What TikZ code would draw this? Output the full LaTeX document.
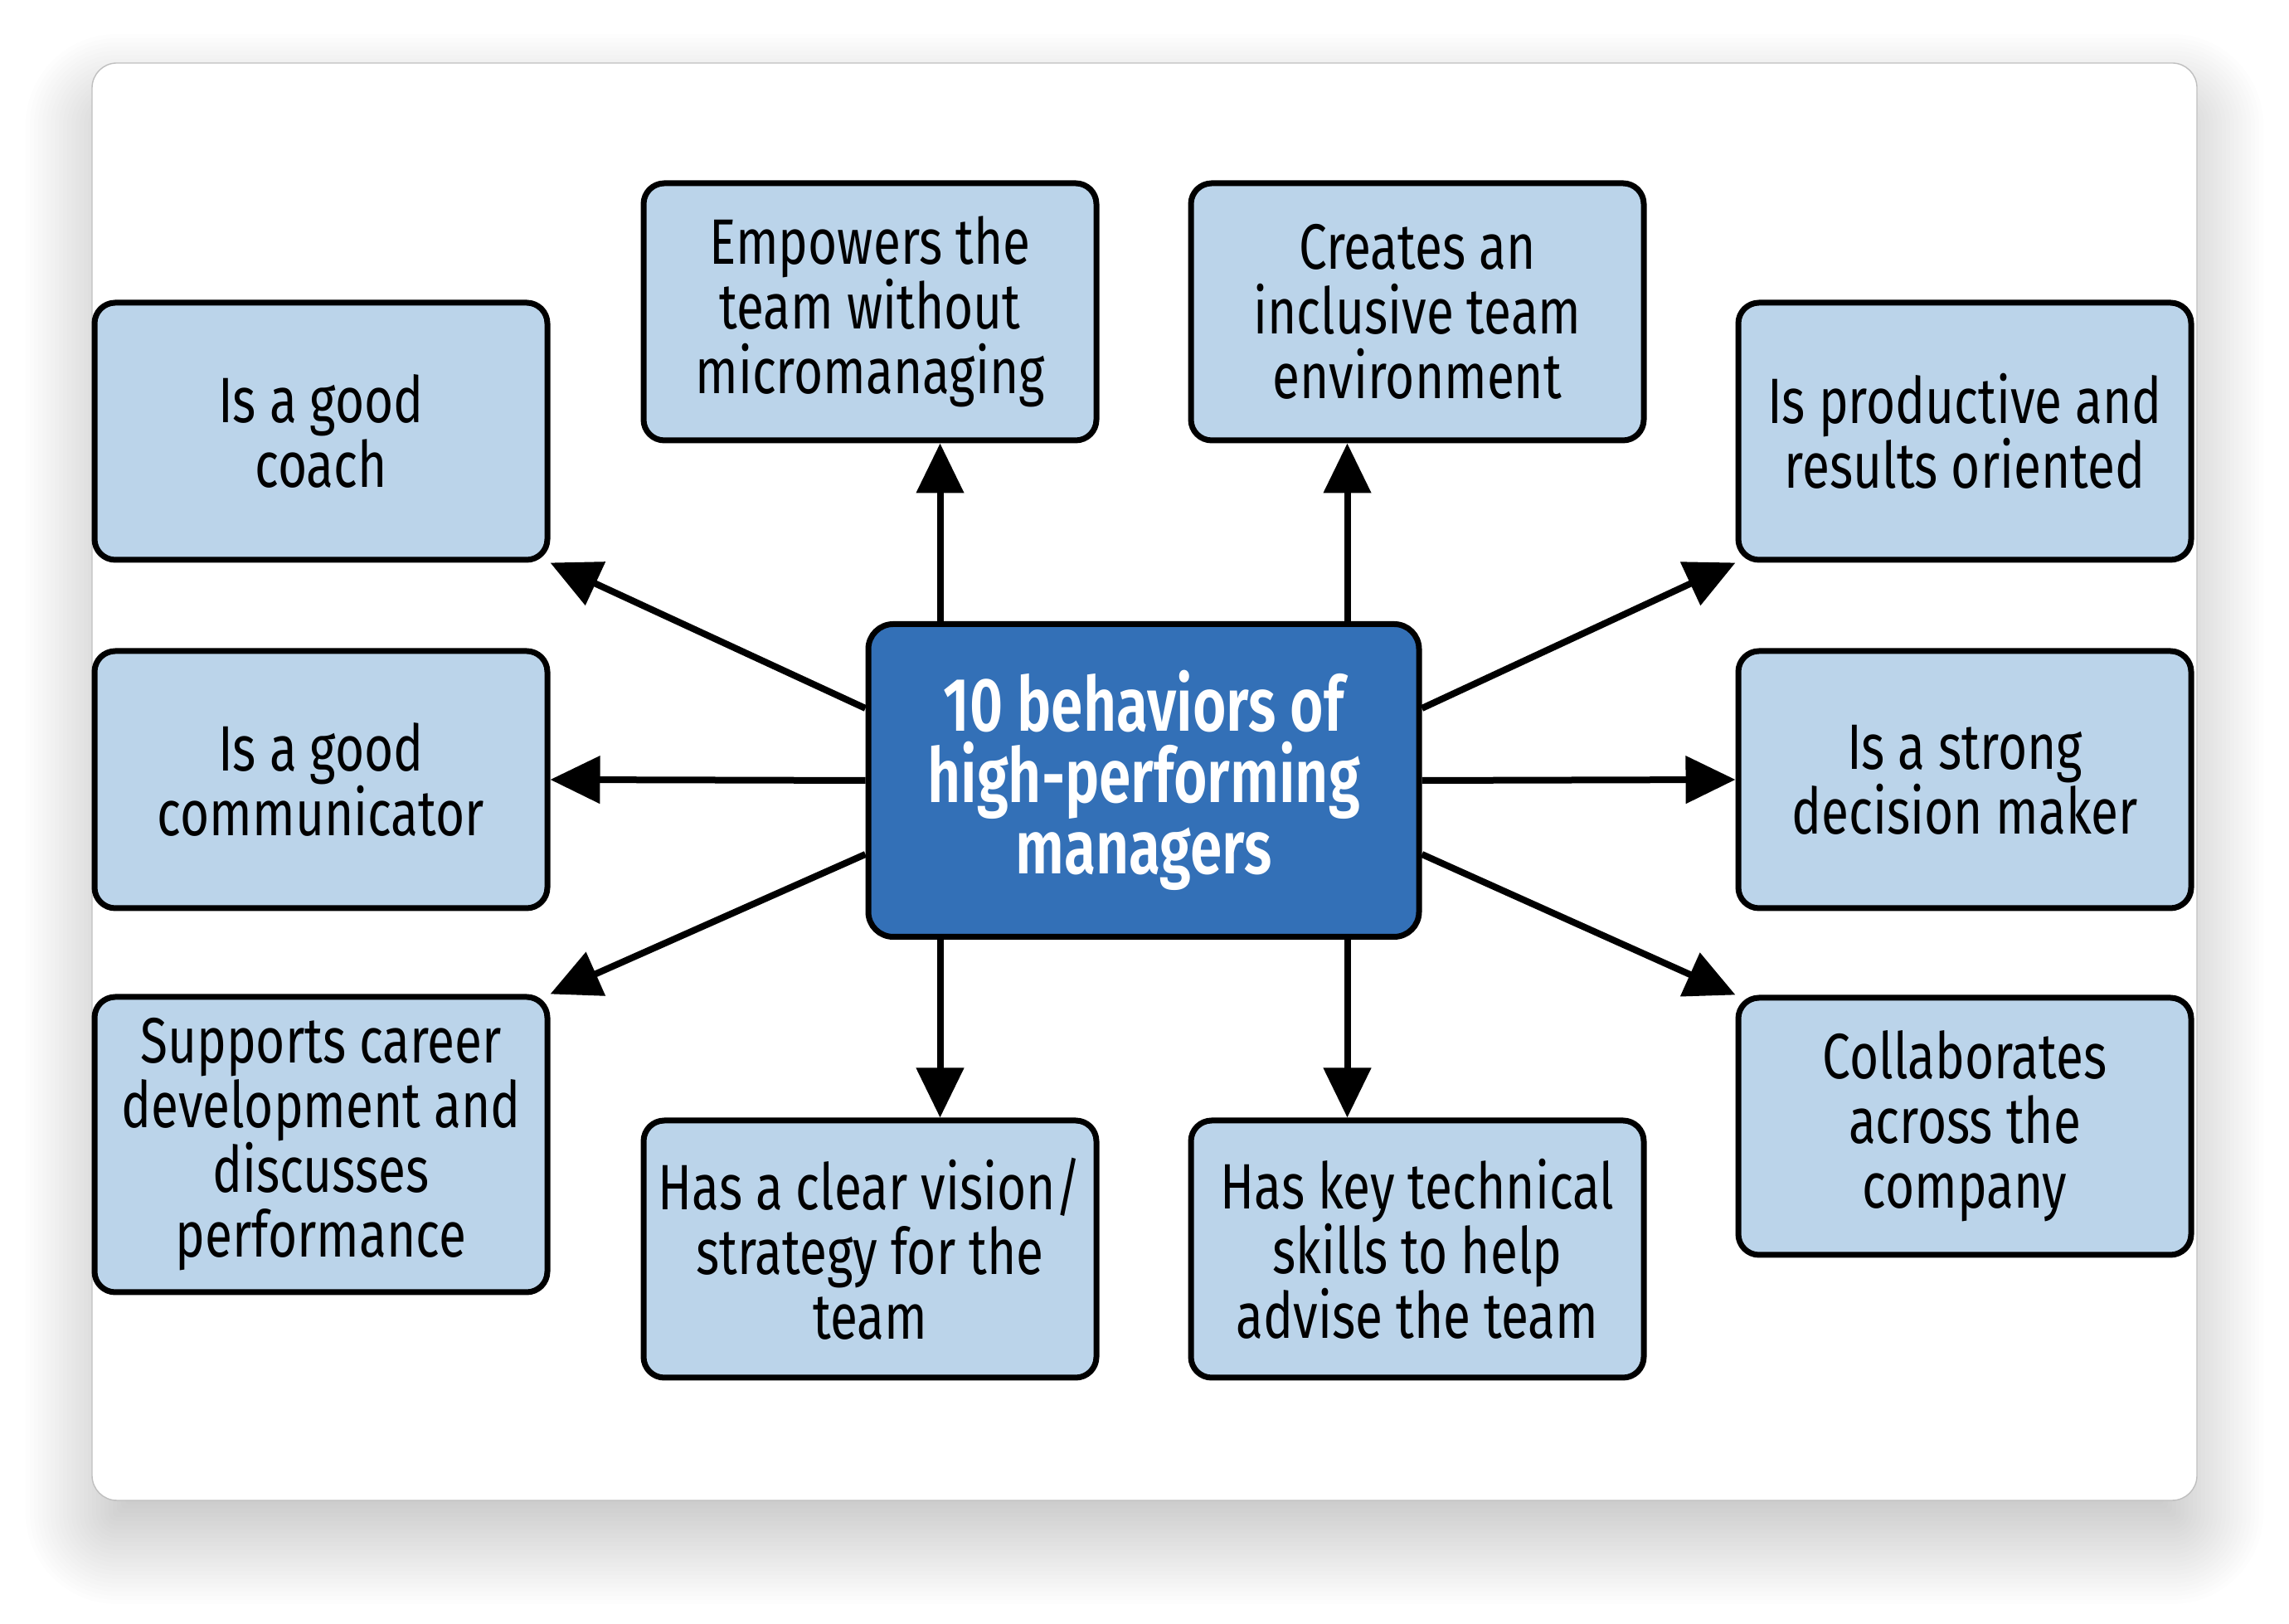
\documentclass[tikz,border=0pt]{standalone}
\usepackage{fontspec}
\setmainfont{Fira Sans}[FakeStretch=0.78]
\newfontfamily\hubfont{Fira Sans SemiBold}[FakeStretch=0.76]
\usetikzlibrary{arrows.meta}
\definecolor{boxblue}{RGB}{187,212,234}
\definecolor{hubblue}{RGB}{51,112,183}
\tikzset{
  >={Triangle[length=0.6cm,width=0.56cm]},
  box/.style={draw,fill=boxblue,line width=0.07cm,rounded corners=0.25cm,
    minimum width=5.46cm,minimum height=3.1cm,align=center,
    font=\fontsize{22}{22.2}\selectfont},
  hub/.style={draw,fill=hubblue,line width=0.07cm,rounded corners=0.3cm,
    minimum width=6.64cm,minimum height=3.77cm,align=center,text=white,
    font=\fontsize{26}{24.5}\hubfont}
}
\begin{document}
\begin{tikzpicture}[line width=0.08cm]
  \useasboundingbox (0,0) rectangle (27.6,19.58);
  \fill[white] (0,0) rectangle (27.6,19.58);
  % soft shadow of the card
  \foreach \i in {0,...,26} {
    \pgfmathsetmacro\e{-0.5+0.05*\i}
    \pgfmathsetmacro\r{max(0.05,0.3+\e)}
    \fill[black,opacity=0.009,rounded corners=\r cm]
      (1.11-\e,1.49-0.45-\e) rectangle (26.49+\e,18.82-0.45+\e);
  }
  \draw[fill=white,draw=black!25,line width=0.4pt,rounded corners=0.3cm]
    (1.11,1.49) rectangle (26.49,18.82);

  \node[hub] (hub) at (13.79,10.17) {10 behaviors of\\high-performing\\managers};

  \node[box] (coach) at (3.87,14.38) {Is a good\\coach};
  \node[box] (comm) at (3.87,10.18) {Is a good\\communicator};
  \node[box,minimum height=3.56cm] (career) at (3.87,5.78)
    {Supports career\\development and\\discusses\\performance};
  \node[box] (empower) at (10.49,15.82) {Empowers the\\team without\\micromanaging};
  \node[box] (inclusive) at (17.09,15.82) {Creates an\\inclusive team\\environment};
  \node[box] (results) at (23.69,14.38) {Is productive and\\results oriented};
  \node[box] (decide) at (23.69,10.18) {Is a strong\\decision maker};
  \node[box] (collab) at (23.69,6.0) {Collaborates\\across the\\company};
  \node[box] (vision) at (10.49,4.52) {Has a clear vision/\\strategy for the\\team};
  \node[box] (skills) at (17.09,4.52) {Has key technical\\skills to help\\advise the team};

  \coordinate (upl) at ([xshift=0.9cm]hub.north west);
  \coordinate (upr) at ([xshift=-0.9cm]hub.north east);
  \coordinate (dnl) at ([xshift=0.9cm]hub.south west);
  \coordinate (dnr) at ([xshift=-0.9cm]hub.south east);

  \draw[->] ([yshift=0.87cm]hub.west) -- (coach.south east);
  \draw[->] (hub.west) -- (comm.east);
  \draw[->] ([yshift=-0.89cm]hub.west) -- (career.north east);
  \draw[->] ([yshift=0.87cm]hub.east) -- (results.south west);
  \draw[->] (hub.east) -- (decide.west);
  \draw[->] ([yshift=-0.89cm]hub.east) -- (collab.north west);
  \draw[->] (upl) -- (upl |- empower.south);
  \draw[->] (upr) -- (upr |- inclusive.south);
  \draw[->] (dnl) -- (dnl |- vision.north);
  \draw[->] (dnr) -- (dnr |- skills.north);
\end{tikzpicture}
\end{document}
